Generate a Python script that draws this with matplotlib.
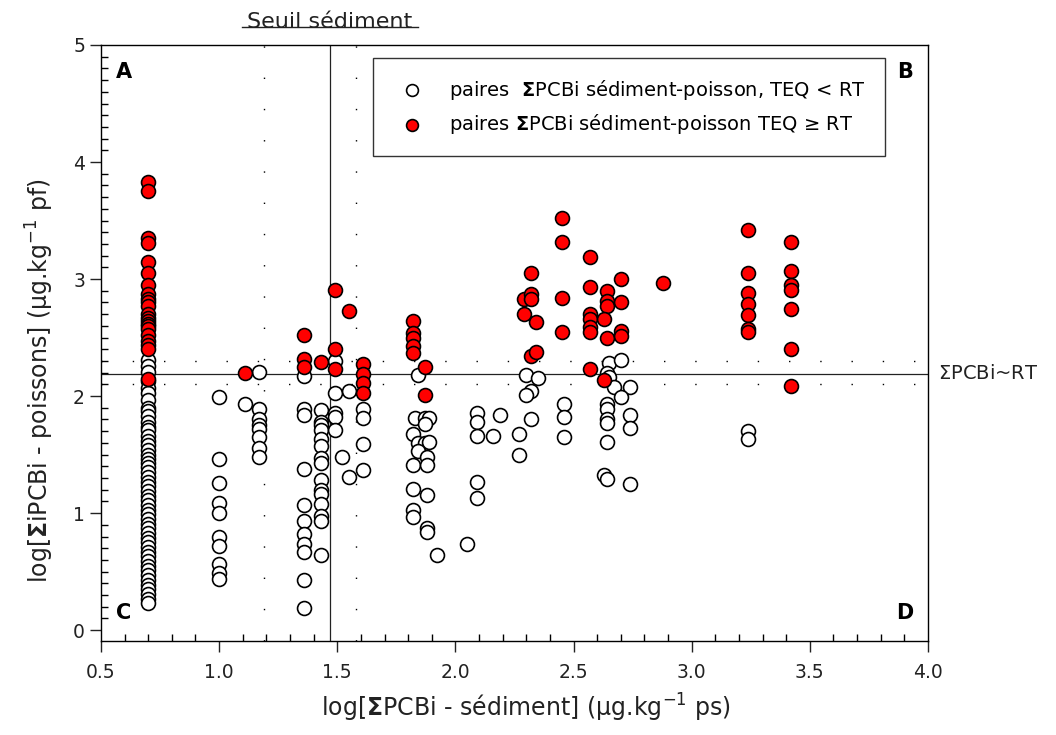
import numpy as np
import matplotlib
matplotlib.use("Agg")
import matplotlib.pyplot as plt
from matplotlib.ticker import MultipleLocator, FormatStrFormatter
from matplotlib.lines import Line2D

plt.rcParams['font.family'] = ['DejaVu Sans']
plt.rcParams['mathtext.fontset'] = 'dejavusans'

# ---------------- données ----------------
# paires TEQ < RT (cercles blancs)
white_x = (
    [0.70] * 50
    + [1.00] * 10
    + [1.11]
    + [1.17] * 8
    + [1.36] * 11
    + [1.43] * 15
    + [1.49] * 5
    + [1.52, 1.55, 1.55]
    + [1.61] * 4
    + [1.83, 1.87, 1.89, 1.87, 1.82, 1.84, 1.87, 1.89, 1.84, 1.88, 1.82, 1.88,
       1.82, 1.88, 1.82, 1.82, 1.88, 1.88, 1.92, 1.84]
    + [2.09, 2.09, 2.19, 2.09, 2.16, 2.09, 2.09, 2.05]
    + [2.30, 2.35, 2.32, 2.30, 2.32, 2.27, 2.27]
    + [2.46, 2.46, 2.46]
    + [2.65, 2.64, 2.65, 2.70, 2.67, 2.74, 2.70, 2.64, 2.64, 2.64, 2.64, 2.64,
       2.74, 2.74, 2.63, 2.64, 2.74]
    + [3.24, 3.24]
)
white_y = (
    [2.31, 2.26, 2.21, 2.13, 2.07, 2.03, 1.97, 1.90, 1.87, 1.83, 1.78, 1.74,
     1.71, 1.66, 1.62, 1.58, 1.54, 1.50, 1.46, 1.43, 1.39, 1.35, 1.31, 1.27,
     1.23, 1.19, 1.15, 1.11, 1.07, 1.03, 0.99, 0.95, 0.91, 0.87, 0.83, 0.79,
     0.75, 0.71, 0.67, 0.63, 0.59, 0.55, 0.51, 0.47, 0.43, 0.39, 0.35, 0.31,
     0.27, 0.23]
    + [1.99, 1.46, 1.26, 1.09, 1.00, 0.80, 0.72, 0.565, 0.485, 0.44]
    + [1.93]
    + [2.21, 1.89, 1.80, 1.755, 1.72, 1.65, 1.555, 1.48]
    + [2.17, 1.89, 1.84, 1.38, 1.07, 0.93, 0.82, 0.74, 0.665, 0.43, 0.19]
    + [1.88, 1.78, 1.75, 1.71, 1.63, 1.57, 1.47, 1.43, 1.28, 1.20, 1.16, 1.08,
       0.975, 0.93, 0.64]
    + [2.30, 2.03, 1.855, 1.82, 1.71]
    + [1.48, 2.04, 1.31]
    + [1.89, 1.81, 1.59, 1.37]
    + [1.81, 1.81, 1.81, 1.76, 1.68, 1.60, 1.60, 1.61, 1.53, 1.48, 1.41, 1.41,
       1.21, 1.155, 1.03, 0.97, 0.87, 0.84, 0.64, 2.18]
    + [1.855, 1.78, 1.84, 1.655, 1.655, 1.27, 1.13, 0.74]
    + [2.18, 2.155, 2.04, 2.01, 1.80, 1.68, 1.50]
    + [1.93, 1.82, 1.65]
    + [2.28, 2.20, 2.16, 2.31, 2.08, 2.08, 1.99, 1.93, 1.89, 1.80, 1.77, 1.61,
       1.84, 1.73, 1.33, 1.29, 1.25]
    + [1.70, 1.63]
)

# paires TEQ >= RT (cercles rouges)
red_x = (
    [0.70] * 22
    + [1.11]
    + [1.36] * 3
    + [1.43]
    + [1.49] * 3
    + [1.55]
    + [1.61] * 4
    + [1.82] * 5 + [1.87, 1.87]
    + [2.32, 2.29, 2.32, 2.32, 2.29, 2.34, 2.32, 2.34]
    + [2.45, 2.45, 2.45, 2.45]
    + [2.57] * 7
    + [2.64, 2.64, 2.64, 2.63, 2.64, 2.63]
    + [2.70] * 4
    + [2.88]
    + [3.24] * 7
    + [3.42] * 7
)
red_y = (
    [3.83, 3.75, 3.35, 3.31, 3.15, 3.05, 2.95, 2.87, 2.83, 2.80, 2.77, 2.70,
     2.67, 2.64, 2.62, 2.60, 2.57, 2.52, 2.47, 2.44, 2.40, 2.15]
    + [2.20]
    + [2.52, 2.32, 2.245]
    + [2.29]
    + [2.91, 2.40, 2.23]
    + [2.73]
    + [2.27, 2.19, 2.11, 2.03]
    + [2.64, 2.54, 2.50, 2.43, 2.37, 2.25, 2.01]
    + [3.05, 2.83, 2.87, 2.83, 2.70, 2.63, 2.34, 2.38]
    + [3.525, 3.32, 2.84, 2.55]
    + [3.19, 2.93, 2.70, 2.66, 2.59, 2.55, 2.23]
    + [2.90, 2.81, 2.77, 2.66, 2.50, 2.14]
    + [3.00, 2.80, 2.56, 2.51]
    + [2.97]
    + [3.42, 3.05, 2.88, 2.79, 2.69, 2.57, 2.55]
    + [3.32, 3.07, 2.945, 2.91, 2.74, 2.40, 2.09]
)

seuil_sediment = 1.47
seuils_x_pointilles = [1.19, 1.58]
rt = 2.19
rt_pointilles = [2.30, 2.10]

# ---------------- figure ----------------
fig = plt.figure(figsize=(10.56, 7.35), dpi=100)
fig.set_facecolor("white")
ax = fig.add_axes([0.0956, 0.1283, 0.7832, 0.8105])

ax.set_xlim(0.5, 4.0)
ax.set_ylim(-0.09, 5.0)

dot = (0, (1, 21.5))
for xv in seuils_x_pointilles:
    ax.axvline(xv, color="black", lw=1.0, ls=dot, zorder=1)
for yv in rt_pointilles:
    ax.axhline(yv, color="black", lw=1.0, ls=dot, zorder=1)
ax.axvline(seuil_sediment, color="#222222", lw=0.9, zorder=1)
ax.axhline(rt, color="#222222", lw=0.9, zorder=1)

ax.scatter(white_x, white_y, s=100, facecolor="white", edgecolor="black",
           linewidths=1.2, zorder=3,
           label="paires  $\\mathbf{\\Sigma}$PCBi sédiment-poisson, TEQ < RT")
ax.scatter(red_x, red_y, s=100, facecolor="#ff0000", edgecolor="black",
           linewidths=1.2, zorder=4,
           label="paires $\\mathbf{\\Sigma}$PCBi sédiment-poisson TEQ ≥ RT")

# axes / graduations
ax.xaxis.set_major_locator(MultipleLocator(0.5))
ax.xaxis.set_minor_locator(MultipleLocator(0.1))
ax.yaxis.set_major_locator(MultipleLocator(1))
ax.yaxis.set_minor_locator(MultipleLocator(0.1))
ax.xaxis.set_major_formatter(FormatStrFormatter("%.1f"))
ax.tick_params(which="major", direction="out", length=8, width=1, labelsize=13.5,
               colors="#222222")
ax.tick_params(which="minor", direction="in", length=5, width=1)
ax.tick_params(axis="x", pad=8)
for sp in ax.spines.values():
    sp.set_linewidth(1.0)

ax.set_xlabel("log[$\\mathbf{\\Sigma}$PCBi - sédiment] (µg.kg$^{-1}$ ps)",
              fontsize=17, color="#222222")
ax.set_ylabel("log[$\\mathbf{\\Sigma}$iPCBi - poissons] (µg.kg$^{-1}$ pf)",
              fontsize=17, color="#222222")
ax.xaxis.set_label_coords(0.514, -0.086)
ax.yaxis.set_label_coords(-0.054, 0.437)

# lettres des quadrants
for lab, px, py, ha, va in [("A", 0.018, 0.955, "left", "center"),
                             ("B", 0.982, 0.955, "right", "center"),
                             ("C", 0.018, 0.046, "left", "center"),
                             ("D", 0.982, 0.046, "right", "center")]:
    ax.text(px, py, lab, transform=ax.transAxes, fontsize=15,
            fontweight="bold", ha=ha, va=va)

ax.text(1.012, (rt - ax.get_ylim()[0]) / (5.0 - ax.get_ylim()[0]),
        "$\\Sigma$PCBi~RT", transform=ax.transAxes, fontsize=14,
        ha="left", va="center", color="#222222")

fig.text(330 / 1056, 1 - 22 / 735, "Seuil sédiment", fontsize=16,
         ha="center", va="center", color="#222222")
fig.add_artist(Line2D([242 / 1056, 418 / 1056], [1 - 27 / 735, 1 - 27 / 735],
                      color="#222222", lw=1.0))

leg = ax.legend(loc="upper right", bbox_to_anchor=(0.948, 0.978),
                fontsize=14, frameon=True, fancybox=False, edgecolor="black",
                borderpad=1.0, labelspacing=0.55, handletextpad=0.9,
                borderaxespad=0, markerscale=0.85)
leg.get_frame().set_linewidth(1.0)

fig.savefig("out.png", dpi=100, facecolor="white")
